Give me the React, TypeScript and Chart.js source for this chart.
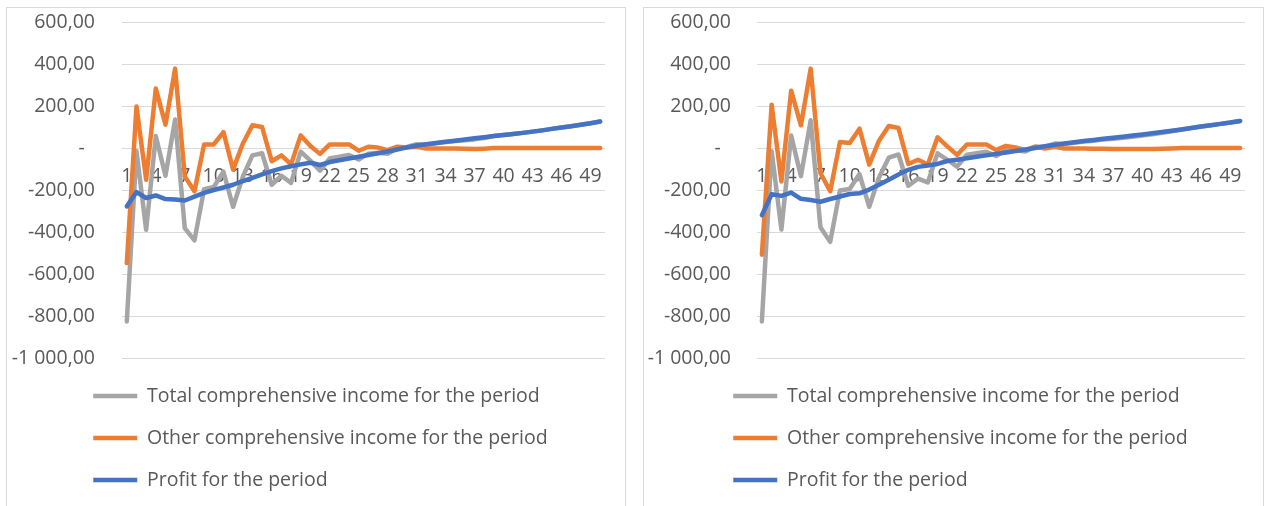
import React, { useEffect, useRef } from 'react';
import { Chart, registerables } from 'chart.js';

Chart.register(...registerables);

const CATEGORIES = [
  '1', '2', '3', '4', '5', '6', '7', '8', '9', '10',
  '11', '12', '13', '14', '15', '16', '17', '18', '19', '20',
  '21', '22', '23', '24', '25', '26', '27', '28', '29', '30',
  '31', '32', '33', '34', '35', '36', '37', '38', '39', '40',
  '41', '42', '43', '44', '45', '46', '47', '48', '49', '50',
];
const SHOWN_X_TICKS = ['1', '4', '7', '10', '13', '16', '19', '22', '25', '28', '31', '34', '37', '40', '43', '46', '49'];
const SERIES_NAMES = [
  'Total comprehensive income for the period',
  'Other comprehensive income for the period',
  'Profit for the period',
];
const Y_MIN = -1000;
const Y_MAX = 600;
const Y_STEP = 200;

const LEFT_TOTAL = [
  -826, -14, -389, 57, -132, 136, -382, -440, -196, -186,
  -113, -280, -138, -35, -25, -175, -132, -166, -17, -60,
  -108, -50, -41, -33, -55, -27, -23, -27, -1, 5,
  18, 16, 22, 28, 33, 37, 41, 48, 57, 62,
  67, 72, 78, 84, 91, 98, 104, 111, 118, 126,
];
const LEFT_OTHER = [
  -548, 198, -151, 283, 111, 378, -135, -206, 17, 17,
  76, -103, 20, 108, 100, -63, -35, -78, 60, 10,
  -28, 17, 17, 17, -13, 6, 2, -10, 6, 2,
  6, -2, -2, -2, -2, -3, -5, -3, 0, 0,
  0, 0, 0, 0, 0, 0, 0, 0, 0, 0,
];
const LEFT_PROFIT = [
  -278, -210, -238, -226, -243, -245, -250, -232, -214, -200,
  -188, -175, -158, -142, -126, -110, -97, -87, -78, -70,
  -81, -67, -58, -50, -42, -33, -25, -17, -7, 3,
  12, 18, 24, 30, 35, 40, 46, 51, 57, 62,
  67, 72, 78, 84, 91, 98, 104, 111, 118, 126,
];

const RIGHT_TOTAL = [
  -826, -15, -388, 60, -134, 132, -377, -447, -202, -195,
  -124, -280, -140, -46, -31, -180, -146, -164, -25, -56,
  -89, -32, -25, -18, -38, -11, -11, -17, 6, 6,
  21, 19, 25, 31, 35, 41, 44, 49, 54, 59,
  65, 72, 80, 88, 95, 102, 108, 115, 121, 129,
];
const RIGHT_OTHER = [
  -508, 206, -159, 273, 108, 378, -119, -206, 29, 24,
  92, -79, 35, 105, 95, -76, -56, -79, 51, 8,
  -33, 17, 17, 17, -10, 10, 3, -10, 6, -2,
  6, -2, -2, -2, -3, -3, -5, -5, -5, -5,
  -5, -4, -2, 0, 0, 0, 0, 0, 0, 0,
];
const RIGHT_PROFIT = [
  -320, -220, -228, -212, -242, -248, -256, -243, -231, -219,
  -216, -198, -175, -151, -126, -104, -90, -83, -76, -62,
  -56, -49, -42, -35, -28, -21, -14, -7, 0, 8,
  15, 21, 27, 33, 38, 44, 49, 54, 59, 64,
  70, 76, 82, 88, 95, 102, 108, 115, 121, 129,
];

const FONT_FAMILY = '"Open Sans", "Liberation Sans", sans-serif';
const FONT_SIZE = 19.5;
const TEXT_COLOR = '#595959';
const GRID_COLOR = '#D9D9D9';
const GRAY = '#A5A5A5';
const ORANGE = '#ED7D31';
const BLUE = '#4472C4';

function formatY(v: number): string {
  if (v === 0) return '-\u00a0\u00a0';
  const abs = Math.abs(v).toFixed(2);
  const [intPart, dec] = abs.split('.');
  const grouped = intPart.replace(/\B(?=(\d{3})+(?!\d))/g, '\u00a0');
  return (v < 0 ? '-' : '') + grouped + ',' + dec;
}

type PanelProps = {
  left: number;
  innerWidth: number;
  total: number[];
  other: number[];
  profit: number[];
  padRight: number;
  axisWidth: number;
  tickPad: number;
  legendLeft: number;
};

const CANVAS_H = 498;

function Panel(p: PanelProps) {
  const ref = useRef<HTMLCanvasElement | null>(null);
  useEffect(() => {
    if (!ref.current) return;
    const base = {
      borderWidth: 4.5,
      pointRadius: 0,
      pointHoverRadius: 0,
      tension: 0,
      fill: false,
      borderCapStyle: 'round' as const,
      borderJoinStyle: 'round' as const,
    };
    const legendShift = {
      id: 'legendShift',
      afterLayout(chart: any) {
        if (chart.legend) {
          chart.legend.left = p.legendLeft;
        }
      },
    };
    const chart = new Chart(ref.current, {
      type: 'line',
      data: {
        labels: CATEGORIES,
        datasets: [
          { ...base, label: SERIES_NAMES[2], data: p.profit, borderColor: BLUE, backgroundColor: BLUE },
          { ...base, label: SERIES_NAMES[1], data: p.other, borderColor: ORANGE, backgroundColor: ORANGE },
          { ...base, label: SERIES_NAMES[0], data: p.total, borderColor: GRAY, backgroundColor: GRAY },
        ],
      },
      options: {
        animation: false,
        responsive: false,
        devicePixelRatio: 1,
        events: [],
        layout: {
          padding: { left: 0, right: p.padRight, top: 14, bottom: 6.25 },
        },
        scales: {
          x: {
            type: 'category',
            position: { y: 0 },
            offset: true,
            grid: { display: false, drawTicks: false },
            border: { display: false },
            afterFit: (scale: any) => {
              scale.height = 0;
            },
            ticks: {
              autoSkip: false,
              maxRotation: 0,
              minRotation: 0,
              padding: 17,
              color: TEXT_COLOR,
              font: { family: FONT_FAMILY, size: FONT_SIZE },
              callback: (_v: any, i: number) => (SHOWN_X_TICKS.includes(CATEGORIES[i]) ? CATEGORIES[i] : ''),
            },
          },
          y: {
            type: 'linear',
            min: Y_MIN,
            max: Y_MAX,
            grid: { color: GRID_COLOR, lineWidth: 1, drawTicks: false },
            border: { display: false },
            afterFit: (scale: any) => {
              scale.width = p.axisWidth;
              scale.paddingTop = 0;
              scale.paddingBottom = 0;
            },
            ticks: {
              stepSize: Y_STEP,
              padding: p.tickPad,
              color: TEXT_COLOR,
              font: { family: FONT_FAMILY, size: FONT_SIZE },
              callback: (v: any) => formatY(Number(v)),
            },
          },
        },
        plugins: {
          tooltip: { enabled: false },
          legend: {
            position: 'bottom',
            align: 'start',
            reverse: true,
            title: { display: true, text: '', padding: 0, font: { size: 5.75, lineHeight: 1 } },
            labels: {
              usePointStyle: true,
              pointStyle: 'line',
              pointStyleWidth: 44,
              padding: 22.5,
              color: TEXT_COLOR,
              font: { family: FONT_FAMILY, size: FONT_SIZE },
            },
          },
        },
      },
      plugins: [legendShift],
    } as any);
    return () => chart.destroy();
  }, []);

  return (
    <div
      style={{
        position: 'absolute',
        left: p.left,
        top: 7,
        width: p.innerWidth,
        height: CANVAS_H,
        border: '1px solid ' + GRID_COLOR,
        background: '#FFFFFF',
      }}
    >
      <canvas ref={ref} width={p.innerWidth} height={CANVAS_H} style={{ display: 'block' }} />
    </div>
  );
}

export default function App() {
  return (
    <div
      style={{
        position: 'fixed',
        left: 0,
        top: 0,
        width: 1264,
        height: 506,
        overflow: 'hidden',
        background: '#FFFFFF',
      }}
    >
      <Panel
        left={6}
        innerWidth={618}
        total={LEFT_TOTAL}
        other={LEFT_OTHER}
        profit={LEFT_PROFIT}
        padRight={20}
        axisWidth={115}
        tickPad={27}
        legendLeft={63.75}
      />
      <Panel
        left={643}
        innerWidth={619}
        total={RIGHT_TOTAL}
        other={RIGHT_OTHER}
        profit={RIGHT_PROFIT}
        padRight={18}
        axisWidth={113}
        tickPad={26}
        legendLeft={66.75}
      />
    </div>
  );
}
